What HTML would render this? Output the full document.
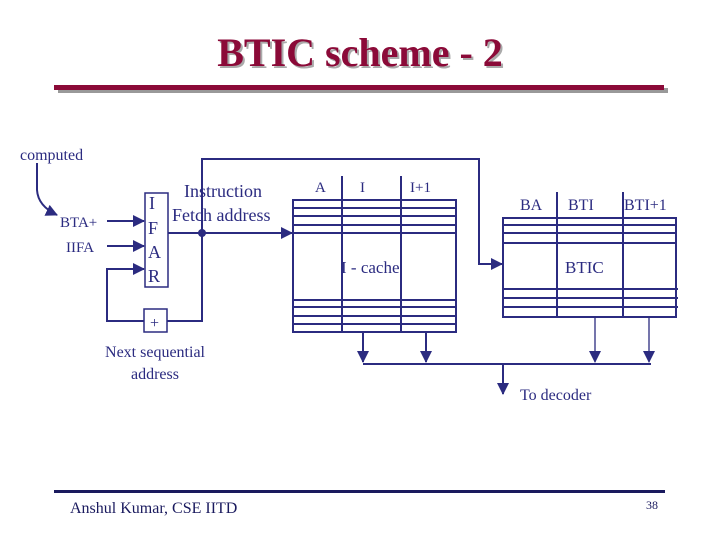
<!DOCTYPE html>
<html><head><style>
body{margin:0;background:#fff;}
svg{display:block;font-family:"Liberation Serif",serif;}
</style></head><body>
<svg width="720" height="540" viewBox="0 0 720 540" xmlns="http://www.w3.org/2000/svg">
<defs>
<marker id="a" markerWidth="8" markerHeight="8" refX="7" refY="4" orient="auto" markerUnits="userSpaceOnUse"><path d="M0,0L8,4L0,8z" fill="#2b2b80"/></marker>
<marker id="b" markerWidth="12" markerHeight="12" refX="11" refY="6" orient="auto" markerUnits="userSpaceOnUse"><path d="M0,0L12,6L0,12z" fill="#2b2b80"/></marker>
</defs>
<text x="362" y="68" text-anchor="middle" font-size="40" font-weight="bold" fill="#aaa">BTIC scheme - 2</text>
<text x="360" y="66" text-anchor="middle" font-size="40" font-weight="bold" fill="#8b0a38">BTIC scheme - 2</text>
<rect x="58" y="88" width="610" height="5" fill="#999"/>
<rect x="54" y="85" width="610" height="5" fill="#8b0a38"/>
<rect x="54" y="490" width="611" height="3" fill="#1a1a5e"/>
<text x="70" y="513" font-size="16" fill="#1a1a5e">Anshul Kumar, CSE IITD</text>
<text x="658" y="509" font-size="12" text-anchor="end" fill="#1a1a5e">38</text>
<g fill="#2b2b80" font-size="16">
<text x="20" y="160">computed</text>
<text x="60" y="227" font-size="15">BTA+</text>
<text x="66" y="252" font-size="15">IIFA</text>
<text x="149" y="209" font-size="18">I</text>
<text x="148" y="234" font-size="18">F</text>
<text x="148" y="258" font-size="18">A</text>
<text x="148" y="282" font-size="18">R</text>
<text x="184" y="197" font-size="18">Instruction</text>
<text x="172" y="221" font-size="18">Fetch address</text>
<text x="150" y="328" font-size="16">+</text>
<text x="155" y="357" font-size="16" text-anchor="middle">Next sequential</text>
<text x="155" y="379" font-size="16" text-anchor="middle">address</text>
<text x="315" y="192" font-size="15">A</text>
<text x="360" y="192" font-size="15">I</text>
<text x="410" y="192" font-size="15">I+1</text>
<text x="341" y="273" font-size="17">I - cache</text>
<text x="520" y="210" font-size="16">BA</text>
<text x="568" y="210" font-size="16">BTI</text>
<text x="624" y="210" font-size="16">BTI+1</text>
<text x="565" y="273" font-size="17">BTIC</text>
<text x="520" y="400" font-size="16">To decoder</text>
</g>
<g stroke="#2b2b80" stroke-width="2" fill="none">
<path d="M37,163 L37,190 Q38,206 57,215" marker-end="url(#b)"/>
<path d="M107,221 H144" marker-end="url(#b)"/>
<path d="M107,246 H144" marker-end="url(#b)"/>
<path d="M144,321 H107 V269 H144" marker-end="url(#b)"/>
<rect x="145" y="193" width="23" height="94" stroke-width="1.5"/>
<rect x="144" y="309" width="23" height="23" stroke-width="1.5"/>
<path d="M168,233 H292" marker-end="url(#b)"/>
<path d="M167,321 H202 V159 H479 V264 H502" marker-end="url(#b)"/>
<rect x="293" y="200" width="163" height="132"/>
<path d="M293,208 H456 M293,216 H456 M293,225 H456 M293,233 H456 M293,300 H456 M293,307 H456 M293,316 H456 M293,324 H456"/>
<path d="M342,176 V332 M401,176 V332"/>
<rect x="503" y="218" width="173" height="99"/>
<path d="M503,225 H676 M503,233 H676 M503,243 H676 M503,289 H678 M503,298 H678 M503,307 H678"/>
<path d="M557,192 V317 M623,192 V317"/>
<path d="M363,332 V362" marker-end="url(#b)"/>
<path d="M426,332 V362" marker-end="url(#b)"/>
<path d="M595,317 V362" stroke-width="1.3" marker-end="url(#b)"/>
<path d="M649,317 V362" stroke-width="1.3" marker-end="url(#b)"/>
<path d="M363,364 H651"/>
<path d="M503,364 V394" marker-end="url(#b)"/>
</g>
<circle cx="202" cy="233" r="4" fill="#2b2b80"/>
</svg>
</body></html>
